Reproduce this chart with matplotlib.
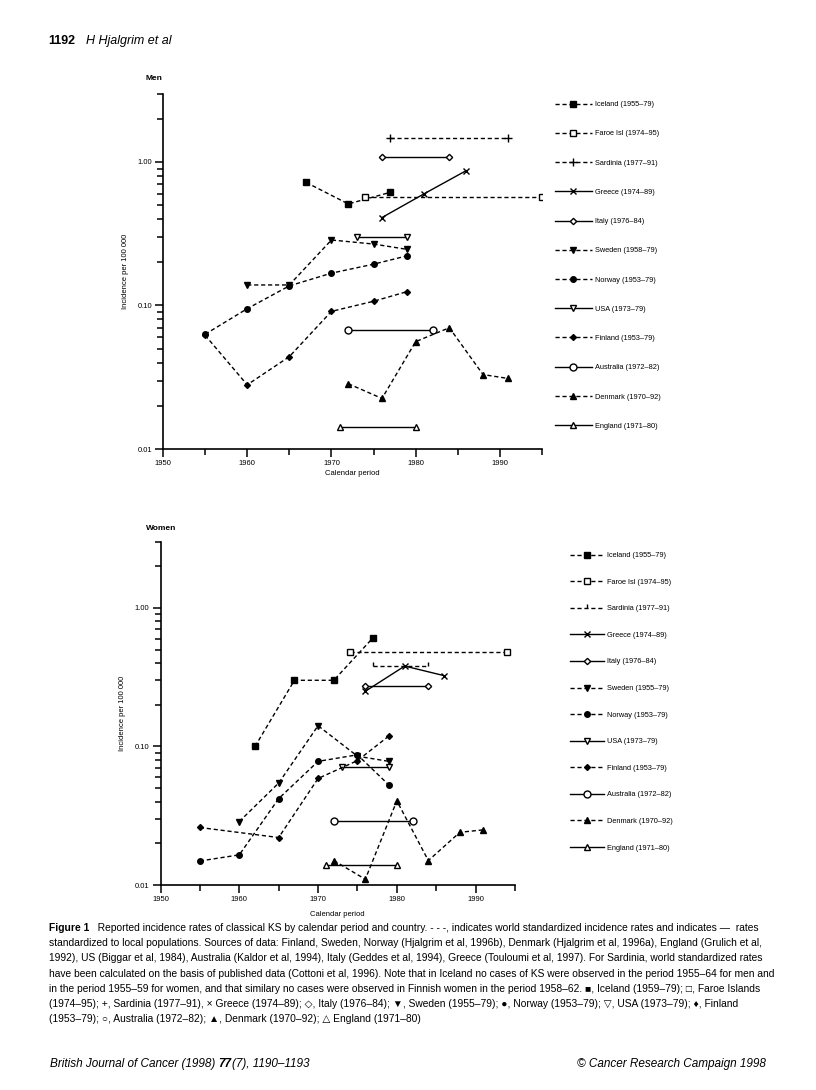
import numpy as np
import matplotlib
matplotlib.use("Agg")
import matplotlib.pyplot as plt
from matplotlib.ticker import FixedLocator, NullFormatter

plt.rcParams['font.family'] = ['Liberation Sans', 'DejaVu Sans']

# ---- data: Men ----
men_iceland_yr = [1967, 1972, 1977]
men_iceland_val = [0.72, 0.51, 0.615]
men_faroe_yr = [1974, 1995]
men_faroe_val = [0.57, 0.57]
men_sardinia_yr = [1977, 1991]
men_sardinia_val = [1.48, 1.48]
men_greece_yr = [1976, 1981, 1986]
men_greece_val = [0.41, 0.60, 0.87]
men_italy_yr = [1976, 1984]
men_italy_val = [1.08, 1.08]
men_sweden_yr = [1960, 1965, 1970, 1975, 1979]
men_sweden_val = [0.139, 0.139, 0.286, 0.268, 0.246]
men_norway_yr = [1955, 1960, 1965, 1970, 1975, 1979]
men_norway_val = [0.063, 0.095, 0.137, 0.168, 0.194, 0.222]
men_usa_yr = [1973, 1979]
men_usa_val = [0.30, 0.30]
men_finland_yr = [1955, 1960, 1965, 1970, 1975, 1979]
men_finland_val = [0.062, 0.028, 0.044, 0.091, 0.107, 0.125]
men_australia_yr = [1972, 1982]
men_australia_val = [0.0675, 0.0675]
men_denmark_yr = [1972, 1976, 1980, 1984, 1988, 1991]
men_denmark_val = [0.0285, 0.0225, 0.056, 0.070, 0.033, 0.031]
men_england_yr = [1971, 1980]
men_england_val = [0.0143, 0.0143]

# ---- data: Women ----
wom_iceland_yr = [1962, 1967, 1972, 1977]
wom_iceland_val = [0.10, 0.30, 0.30, 0.61]
wom_faroe_yr = [1974, 1994]
wom_faroe_val = [0.48, 0.48]
wom_sardinia_yr = [1977, 1984]
wom_sardinia_val = [0.38, 0.38]
wom_greece_yr = [1976, 1981, 1986]
wom_greece_val = [0.25, 0.38, 0.324]
wom_italy_yr = [1976, 1984]
wom_italy_val = [0.275, 0.275]
wom_sweden_yr = [1960, 1965, 1970, 1975, 1979]
wom_sweden_val = [0.0287, 0.0544, 0.141, 0.085, 0.078]
wom_norway_yr = [1955, 1960, 1965, 1970, 1975, 1979]
wom_norway_val = [0.0149, 0.0165, 0.042, 0.078, 0.087, 0.0526]
wom_usa_yr = [1973, 1979]
wom_usa_val = [0.071, 0.071]
wom_finland_yr = [1955, 1965, 1970, 1975, 1979]
wom_finland_val = [0.026, 0.022, 0.0587, 0.079, 0.119]
wom_australia_yr = [1972, 1982]
wom_australia_val = [0.0292, 0.0292]
wom_denmark_yr = [1972, 1976, 1980, 1984, 1988, 1991]
wom_denmark_val = [0.015, 0.011, 0.0405, 0.015, 0.024, 0.025]
wom_england_yr = [1971, 1980]
wom_england_val = [0.014, 0.014]

men_labels = ['Iceland (1955–79)', 'Faroe Isl (1974–95)', 'Sardinia (1977–91)',
              'Greece (1974–89)', 'Italy (1976–84)', 'Sweden (1958–79)',
              'Norway (1953–79)', 'USA (1973–79)', 'Finland (1953–79)',
              'Australia (1972–82)', 'Denmark (1970–92)', 'England (1971–80)']
wom_labels = ['Iceland (1955–79)', 'Faroe Isl (1974–95)', 'Sardinia (1977–91)',
              'Greece (1974–89)', 'Italy (1976–84)', 'Sweden (1955–79)',
              'Norway (1953–79)', 'USA (1973–79)', 'Finland (1953–79)',
              'Australia (1972–82)', 'Denmark (1970–92)', 'England (1971–80)']

men_series = [(men_iceland_yr, men_iceland_val), (men_faroe_yr, men_faroe_val),
              (men_sardinia_yr, men_sardinia_val), (men_greece_yr, men_greece_val),
              (men_italy_yr, men_italy_val), (men_sweden_yr, men_sweden_val),
              (men_norway_yr, men_norway_val), (men_usa_yr, men_usa_val),
              (men_finland_yr, men_finland_val), (men_australia_yr, men_australia_val),
              (men_denmark_yr, men_denmark_val), (men_england_yr, men_england_val)]
wom_series = [(wom_iceland_yr, wom_iceland_val), (wom_faroe_yr, wom_faroe_val),
              (wom_sardinia_yr, wom_sardinia_val), (wom_greece_yr, wom_greece_val),
              (wom_italy_yr, wom_italy_val), (wom_sweden_yr, wom_sweden_val),
              (wom_norway_yr, wom_norway_val), (wom_usa_yr, wom_usa_val),
              (wom_finland_yr, wom_finland_val), (wom_australia_yr, wom_australia_val),
              (wom_denmark_yr, wom_denmark_val), (wom_england_yr, wom_england_val)]

# style per country: (dashed?, marker, filled?, size)
dash = (0, (3, 2))
styles = [(True, 's', True, 4), (True, 's', False, 4.5), (True, '+', True, 6),
          (False, 'x', True, 5), (False, 'D', False, 3.2), (True, 'v', True, 4),
          (True, 'o', True, 4), (False, 'v', False, 5), (True, 'D', True, 3),
          (False, 'o', False, 5), (True, '^', True, 4), (False, '^', False, 5)]


def panel(ax, series, labels, leg_xy, spacing, hlen, xpad, women=False):
    handles = []
    for i, ((xs, ys), (dashed, mk, filled, ms)) in enumerate(zip(series, styles)):
        if women and i == 2:
            mk, ms = 2, 3
        ln, = ax.plot(xs, ys, color='black', lw=1.0,
                      linestyle=dash if dashed else '-',
                      marker=mk, markersize=ms,
                      markerfacecolor='black' if filled else 'white',
                      markeredgecolor='black', markeredgewidth=1.0)
        handles.append(ln)
    ax.set_yscale('log')
    ax.set_ylim(0.01, 3.0)
    ax.set_xlim(1950, 1995)
    ax.yaxis.set_major_locator(FixedLocator([0.01, 0.1, 1.0]))
    ax.set_yticklabels(['0.01', '0.10', '1.00'])
    minors = [m * 10.0 ** e for e in (-2, -1, 0) for m in range(2, 10)]
    minors = [v for v in minors if v <= 3.0]
    ax.yaxis.set_minor_locator(FixedLocator(minors))
    ax.yaxis.set_minor_formatter(NullFormatter())
    ax.set_xticks([1950, 1960, 1970, 1980, 1990])
    ax.set_xticks([1955, 1965, 1975, 1985, 1995], minor=True)
    for s in ('top', 'right'):
        ax.spines[s].set_visible(False)
    for s in ('left', 'bottom'):
        ax.spines[s].set_linewidth(1.2)
    ax.tick_params(which='major', length=6, width=1.1, labelsize=5.5, pad=2)
    ax.tick_params(which='minor', length=4, width=1.1)
    ax.set_ylabel('Incidence per 100 000', fontsize=5.5, labelpad=6)
    ax.set_xlabel('Calendar period', fontsize=5.5, labelpad=xpad)
    ax.legend(handles, labels, loc='upper left', bbox_to_anchor=leg_xy,
              bbox_transform=fig.transFigure, frameon=False, fontsize=5.3,
              handlelength=hlen, handletextpad=0.4, labelspacing=spacing,
              borderpad=0, borderaxespad=0)


def text_run(x, y, pieces, size):
    # place consecutive text pieces with different weights/styles on one line
    r = fig.canvas.get_renderer()
    for s, kw in pieces:
        t = fig.text(x / 816, 1 - y / 1090, s, fontsize=size, va='center', **kw)
        x = t.get_window_extent(r).x1


fig = plt.figure(figsize=(8.16, 10.9), dpi=100)
ax1 = fig.add_axes([163 / 816, 1 - 449 / 1090, 379 / 816, 355.5 / 1090])
ax2 = fig.add_axes([160.5 / 816, 1 - 885 / 1090, 354.5 / 816, 343.3 / 1090])
panel(ax1, men_series, men_labels, (555 / 816, 1 - 101 / 1090), 3.0, 5.0, 2)
panel(ax2, wom_series, wom_labels, (570 / 816, 1 - 552 / 1090), 2.64, 4.6, 5.5, women=True)

fig.text(146 / 816, 1 - 79 / 1090, 'Men', fontsize=6, fontweight='bold', va='center')
fig.text(146 / 816, 1 - 528 / 1090, 'Women', fontsize=6, fontweight='bold', va='center')

text_run(48, 41, [('1192', dict(fontweight='bold')), ('   ', {}),
                  ('H Hjalgrim et al', dict(style='italic'))], 9)

caption = [
    "Reported incidence rates of classical KS by calendar period and country. - - -, indicates world standardized incidence rates and indicates —  rates",
    "standardized to local populations. Sources of data: Finland, Sweden, Norway (Hjalgrim et al, 1996b), Denmark (Hjalgrim et al, 1996a), England (Grulich et al,",
    "1992), US (Biggar et al, 1984), Australia (Kaldor et al, 1994), Italy (Geddes et al, 1994), Greece (Touloumi et al, 1997). For Sardinia, world standardized rates",
    "have been calculated on the basis of published data (Cottoni et al, 1996). Note that in Iceland no cases of KS were observed in the period 1955–64 for men and",
    "in the period 1955–59 for women, and that similary no cases were observed in Finnish women in the period 1958–62. ■, Iceland (1959–79); □, Faroe Islands",
    "(1974–95); +, Sardinia (1977–91), × Greece (1974–89); ◇, Italy (1976–84); ▼, Sweden (1955–79); ●, Norway (1953–79); ▽, USA (1973–79); ♦, Finland",
    "(1953–79); ○, Australia (1972–82); ▲, Denmark (1970–92); △ England (1971–80)",
]
for i, line in enumerate(caption):
    y = 928 + i * 15.2
    if i == 0:
        text_run(49, y, [('Figure 1', dict(fontweight='bold')), ('   ' + line, {})], 7.4)
    else:
        fig.text(49 / 816, 1 - y / 1090, line, fontsize=7.4, va='center')

text_run(50, 1064, [('British Journal of Cancer (1998) ', dict(style='italic')),
                    ('77', dict(style='italic', fontweight='bold')),
                    ('(7), 1190–1193', dict(style='italic'))], 8.5)
fig.text(766 / 816, 1 - 1064 / 1090, '© Cancer Research Campaign 1998',
         fontsize=8.5, style='italic', va='center', ha='right')

fig.savefig('out.png', dpi=100)
